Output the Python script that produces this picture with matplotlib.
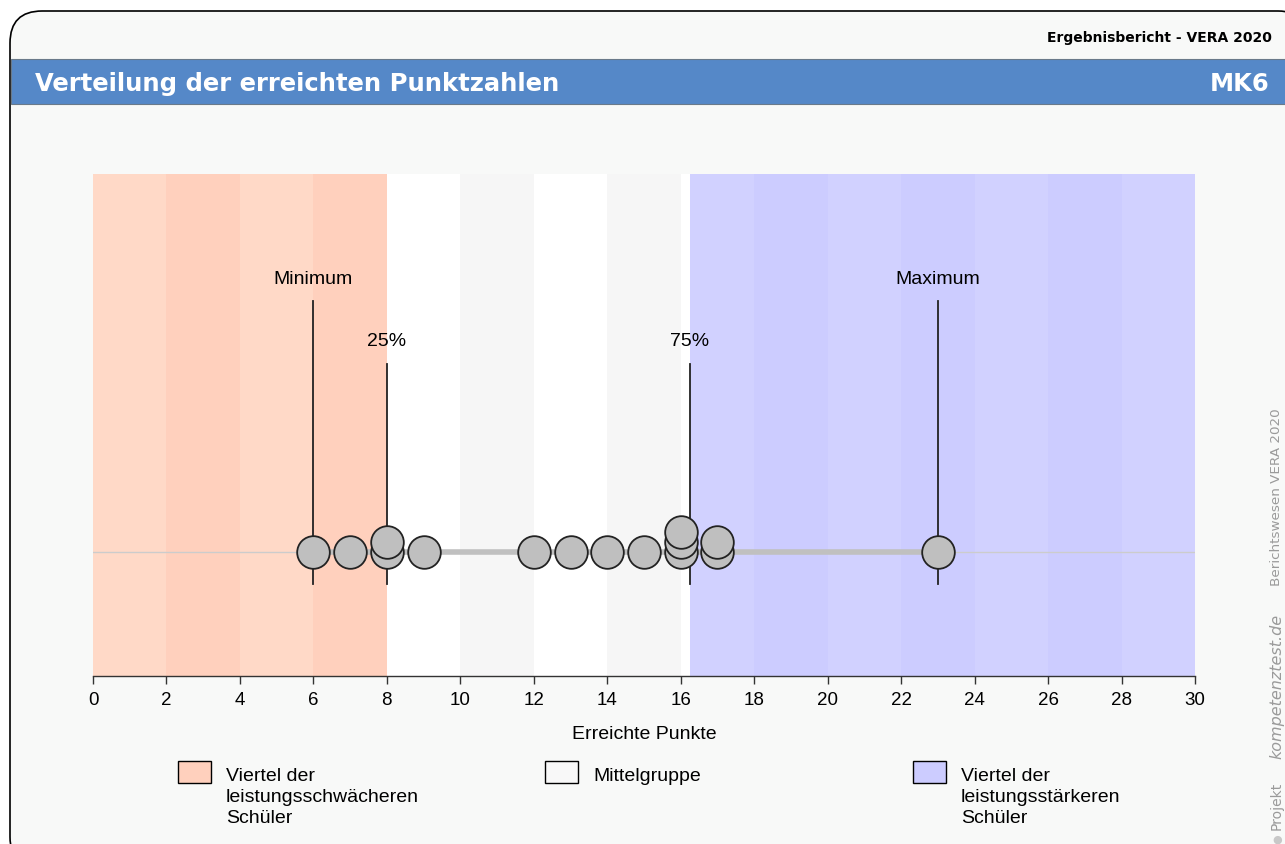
import matplotlib
matplotlib.use("Agg")
import matplotlib.pyplot as plt
from matplotlib.patches import FancyBboxPatch, Rectangle
import numpy as np

# ---- data ----
points = [6, 7, 8, 8, 9, 12, 13, 14, 15, 16, 16, 16, 17, 17, 23]
q_min, q25, q75, q_max = 6, 8, 16.25, 23
x_ticks = list(range(0, 31, 2))
legend_labels = ["Viertel der\nleistungsschwächeren\nSchüler", "Mittelgruppe",
                 "Viertel der\nleistungsstärkeren\nSchüler"]
legend_colors = ["#ffd0bd", "#f8f8f8", "#ccccff"]
title = "Verteilung der erreichten Punktzahlen"
code = "MK6"
report = "Ergebnisbericht - VERA 2020"
xlabel = "Erreichte Punkte"

W, H = 1285, 845
fig = plt.figure(figsize=(W / 100, H / 100), dpi=100)
fig.patch.set_facecolor("white")

def fx(px):
    return px / W

def fy(py):
    return 1 - py / H

# outer frame
frame = FancyBboxPatch((fx(10), fy(870)), fx(1300), (870 - 12) / H,
                       boxstyle="round,pad=0,rounding_size=0.025",
                       transform=fig.transFigure, facecolor="#f8f9f8",
                       edgecolor="black", linewidth=1.2, mutation_aspect=W / H,
                       zorder=-10)
fig.patches.append(frame)

# header bar
fig.patches.append(Rectangle((fx(10.5), fy(105)), fx(1280), 45 / H,
                             transform=fig.transFigure, facecolor="#5588c8",
                             edgecolor="#6a7a8a", linewidth=0.8, zorder=-9))
fig.text(fx(35), fy(84), title, color="white", fontsize=17.5, fontweight="bold",
         family="DejaVu Sans", va="center", ha="left")
fig.text(fx(1270), fy(84), code, color="white", fontsize=17.5, fontweight="bold",
         family="DejaVu Sans", va="center", ha="right")
fig.text(fx(1272), fy(38), report, color="black", fontsize=10, fontweight="bold",
         family="DejaVu Sans", va="center", ha="right")

# side text
side_col = "#9a9a9a"
fig.text(fx(1277), fy(408), "Berichtswesen VERA 2020", color=side_col, fontsize=9.7,
         rotation=90, va="top", ha="center", family="DejaVu Sans")
fig.text(fx(1277), fy(614), "kompetenztest.de", color=side_col, fontsize=11.5,
         rotation=90, va="top", ha="center", family="DejaVu Sans", style="italic")
fig.text(fx(1277), fy(830), "Projekt", color=side_col, fontsize=10,
         rotation=90, va="bottom", ha="center", family="DejaVu Sans")
fig.text(fx(1277), fy(840), "●", color="#c8c8c8", fontsize=8,
         va="center", ha="center")

# ---- main axes ----
ax_l, ax_r, ax_t, ax_b = 93, 1195, 175, 677
ax = fig.add_axes([fx(ax_l), fy(ax_b), fx(ax_r - ax_l), (ax_b - ax_t) / H])
ax.set_facecolor("none")
ax.set_xlim(0, 30)
ax.set_ylim(0, ax_b - ax_t)

low_cols = ["#ffd9c7", "#ffd0bd"]
mid_cols = ["#ffffff", "#f6f6f6"]
high_cols = ["#d1d1ff", "#ccccff"]
for i, x0 in enumerate(range(0, 30, 2)):
    x1 = x0 + 2
    if x1 <= q25:
        ax.axvspan(x0, x1, color=low_cols[i % 2], lw=0)
    else:
        a = max(x0, q25)
        b = min(x1, q75)
        if b > a:
            ax.axvspan(a, b, color=mid_cols[i % 2], lw=0)
        a = max(x0, q75)
        if x1 > a:
            ax.axvspan(a, x1, color=high_cols[i % 2], lw=0)

y0 = ax_b - 553
ax.plot([0, 30], [y0, y0], color="#cccccc", lw=1, zorder=2)
ax.plot([q_min, q_max], [y0, y0], color="#c0c0c0", lw=4, zorder=2)

# vertical markers
y_low = ax_b - 585
for xv, ytop, lab in [(q_min, ax_b - 302, "Minimum"), (q25, ax_b - 365, "25%"),
                      (q75, ax_b - 365, "75%"), (q_max, ax_b - 302, "Maximum")]:
    ax.plot([xv, xv], [y_low, ytop], color="#222222", lw=1.3, zorder=3)
    ax.text(xv, ytop + 23, lab, ha="center", va="center", fontsize=14,
            family="Liberation Sans")

# dots with stacking
counts = {}
for p in points:
    k = counts.get(p, 0)
    counts[p] = k + 1
    ax.plot(p, y0 + 10 * k, "o", ms=23.5, mfc="#bfbfbf", mec="#222222", mew=1.3,
            zorder=4 + k)

ax.set_xticks(x_ticks)
ax.set_xticklabels([str(t) for t in x_ticks], fontsize=13.5, family="Liberation Sans")
ax.tick_params(axis="x", length=6, width=1, direction="out", pad=5, color="#333333")
ax.set_yticks([])
for s in ["top", "left", "right"]:
    ax.spines[s].set_visible(False)
ax.spines["bottom"].set_linewidth(1)
ax.spines["bottom"].set_color("#333333")
ax.set_xlabel(xlabel, fontsize=14, family="Liberation Sans", labelpad=12)

# legend
for col, lab, px in zip(legend_colors, legend_labels, [178, 545, 913]):
    fig.patches.append(Rectangle((fx(px), fy(784)), fx(33), 22 / H,
                                 transform=fig.transFigure, facecolor=col,
                                 edgecolor="black", lw=1, zorder=1))
    fig.text(fx(px + 48), fy(768), lab, ha="left", va="top", fontsize=14,
             family="Liberation Sans", linespacing=1.3)

fig.savefig("out.png", dpi=100, facecolor="white")
